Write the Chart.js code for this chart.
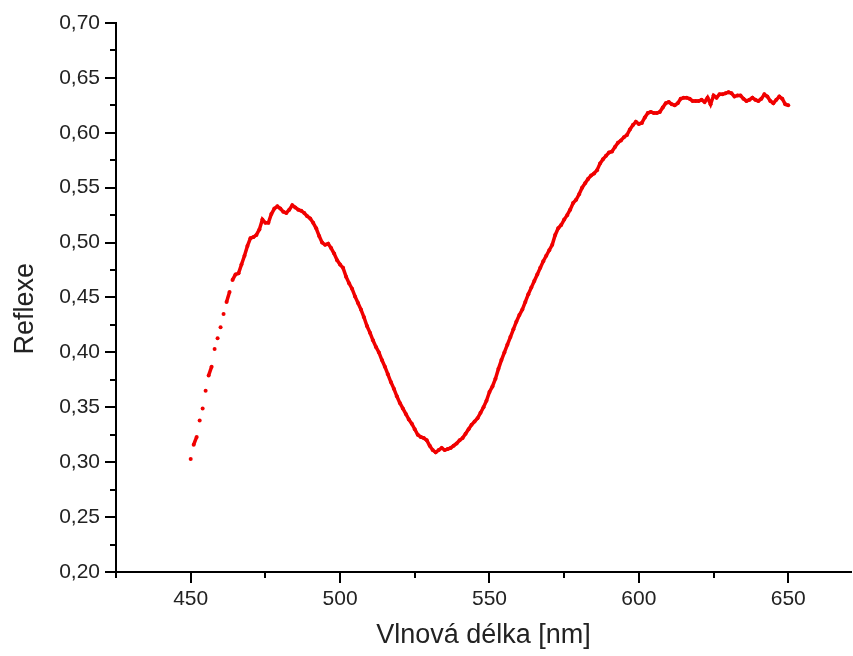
<!DOCTYPE html>
<html>
<head>
<meta charset="utf-8">
<script src="https://cdn.jsdelivr.net/npm/chart.js@4.4.0/dist/chart.umd.min.js"></script>
<style>
  html, body { margin: 0; padding: 0; background: #fff; }
  #wrap { width: 853px; height: 656px; }
</style>
</head>
<body>
<div id="wrap"><canvas id="chart" width="853" height="656"></canvas></div>
<script>
// reflectance, one value per nm from 450 to 650
const startNm = 450;
const reflexe = [
  0.303, 0.316, 0.323, 0.338, 0.349, 0.365, 0.379, 0.387, 0.403, 0.413,
  0.423, 0.435, 0.446, 0.455, 0.466, 0.471, 0.472, 0.480, 0.488, 0.497,
  0.504, 0.505, 0.507, 0.512, 0.521, 0.518, 0.518, 0.526, 0.531, 0.533,
  0.531, 0.528, 0.527, 0.530, 0.534, 0.532, 0.530, 0.529, 0.527, 0.524,
  0.522, 0.518, 0.513, 0.506, 0.500, 0.498, 0.499, 0.495, 0.490, 0.484,
  0.480, 0.477, 0.469, 0.463, 0.458, 0.451, 0.445, 0.439, 0.432, 0.424,
  0.418, 0.411, 0.405, 0.400, 0.393, 0.387, 0.380, 0.373, 0.367, 0.360,
  0.354, 0.349, 0.344, 0.339, 0.335, 0.330, 0.325, 0.323, 0.322, 0.320,
  0.315, 0.311, 0.309, 0.311, 0.313, 0.311, 0.312, 0.313, 0.315, 0.317,
  0.320, 0.322, 0.326, 0.330, 0.334, 0.337, 0.340, 0.345, 0.350, 0.356,
  0.364, 0.369, 0.376, 0.385, 0.393, 0.400, 0.407, 0.414, 0.421, 0.428,
  0.434, 0.439, 0.446, 0.453, 0.459, 0.465, 0.471, 0.477, 0.483, 0.488,
  0.493, 0.498, 0.507, 0.513, 0.516, 0.521, 0.525, 0.530, 0.536, 0.539,
  0.544, 0.550, 0.554, 0.558, 0.561, 0.563, 0.566, 0.572, 0.576, 0.579,
  0.582, 0.583, 0.587, 0.591, 0.593, 0.596, 0.598, 0.603, 0.607, 0.610,
  0.608, 0.609, 0.614, 0.618, 0.619, 0.618, 0.618, 0.619, 0.623, 0.627,
  0.628, 0.626, 0.625, 0.627, 0.631, 0.632, 0.632, 0.631, 0.629, 0.629,
  0.629, 0.630, 0.628, 0.632, 0.626, 0.634, 0.632, 0.635, 0.635, 0.636,
  0.637, 0.636, 0.633, 0.634, 0.634, 0.631, 0.629, 0.630, 0.632, 0.630,
  0.629, 0.631, 0.635, 0.633, 0.629, 0.627, 0.630, 0.633, 0.631, 0.626,
  0.625
];
const xMajor = [450, 500, 550, 600, 650];
const xMinor = [425, 475, 525, 575, 625];
const yMajor = [0.20, 0.25, 0.30, 0.35, 0.40, 0.45, 0.50, 0.55, 0.60, 0.65, 0.70];
const yMinor = [0.225, 0.275, 0.325, 0.375, 0.425, 0.475, 0.525, 0.575, 0.625, 0.675];

const points = reflexe.map((v, i) => ({ x: startNm + i, y: v }));

const red = 'rgb(240,0,0)';
const fontFam = "'Liberation Sans', Arial, sans-serif";

// short outward ticks between the labelled ones
const minorTicks = {
  id: 'minorTicks',
  afterDraw(chart) {
    const { ctx, chartArea, scales } = chart;
    ctx.save();
    ctx.strokeStyle = '#000';
    ctx.lineWidth = 2;
    ctx.beginPath();
    xMinor.forEach(v => {
      const px = Math.round(scales.x.getPixelForValue(v));
      ctx.moveTo(px, chartArea.bottom);
      ctx.lineTo(px, chartArea.bottom + 6);
    });
    yMinor.forEach(v => {
      const py = Math.round(scales.y.getPixelForValue(v));
      ctx.moveTo(chartArea.left, py);
      ctx.lineTo(chartArea.left - 6, py);
    });
    ctx.stroke();
    ctx.restore();
  }
};

new Chart(document.getElementById('chart'), {
  type: 'scatter',
  data: {
    datasets: [{
      data: points,
      showLine: true,
      borderWidth: 3.5,
      borderColor: red,
      // the dense readings merge into a thick trace; the steep rise stays dotted
      segment: {
        borderColor: c => Math.abs(c.p1.parsed.y - c.p0.parsed.y) > 0.0095 ? 'rgba(0,0,0,0)' : red
      },
      pointRadius: 2,
      pointHoverRadius: 2,
      pointBorderWidth: 0,
      pointBackgroundColor: red,
      pointBorderColor: red
    }]
  },
  options: {
    responsive: false,
    devicePixelRatio: 1,
    animation: false,
    layout: { padding: { top: 23, right: 0, bottom: 0, left: 0 } },
    plugins: { legend: { display: false }, tooltip: { enabled: false } },
    scales: {
      x: {
        type: 'linear',
        min: 425,
        max: 671,
        afterBuildTicks: s => { s.ticks = xMajor.map(v => ({ value: v })); },
        afterFit: s => { s.height = 84; },
        border: { display: true, color: '#000', width: 2 },
        grid: { drawOnChartArea: false, drawTicks: true, tickLength: 11, color: '#000', lineWidth: 2 },
        ticks: { color: '#222', padding: 4, font: { family: fontFam, size: 21 }, maxRotation: 0 },
        title: {
          display: true, text: 'Vlnová délka [nm]', color: '#222',
          font: { family: fontFam, size: 27 }, padding: { top: 0, bottom: 4 }
        }
      },
      y: {
        min: 0.2,
        max: 0.7,
        afterBuildTicks: s => { s.ticks = yMajor.map(v => ({ value: v })); },
        afterFit: s => { s.width = 116; },
        border: { display: true, color: '#000', width: 2 },
        grid: { drawOnChartArea: false, drawTicks: true, tickLength: 11, color: '#000', lineWidth: 2 },
        ticks: {
          color: '#222', padding: 5, font: { family: fontFam, size: 21 },
          callback: v => v.toFixed(2).replace('.', ',')
        },
        title: {
          display: true, text: 'Reflexe   ', color: '#222',
          font: { family: fontFam, size: 27 }, padding: { top: 9, bottom: 0 }
        }
      }
    }
  },
  plugins: [minorTicks]
});
</script>
</body>
</html>
